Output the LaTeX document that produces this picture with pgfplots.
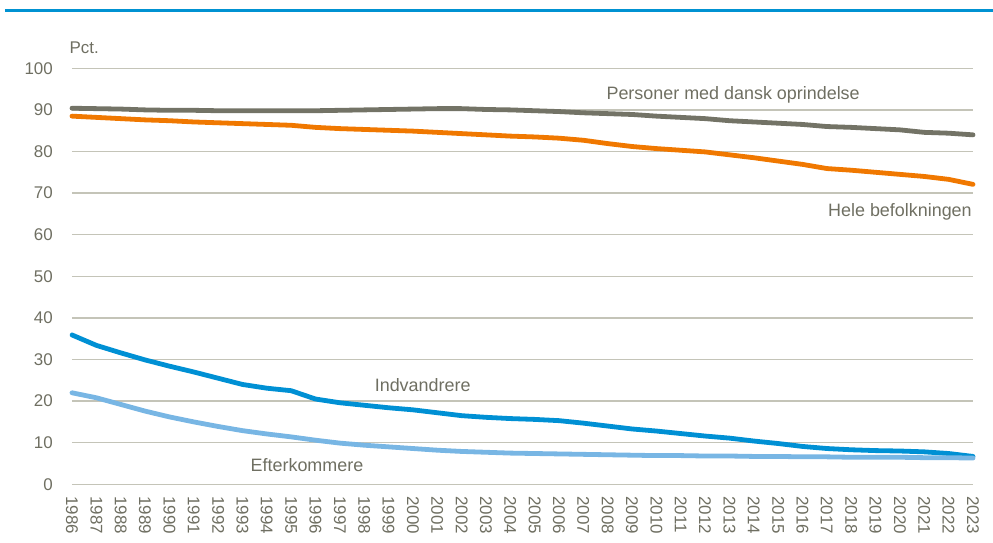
\documentclass[border=0pt]{standalone}
\usepackage{fontspec}
\setmainfont{Liberation Sans}
\usepackage{pgfplots}
\pgfplotsset{compat=1.18}
\definecolor{dansk}{HTML}{737366}
\definecolor{hele}{HTML}{F07800}
\definecolor{indv}{HTML}{0090D4}
\definecolor{efter}{HTML}{78B6E4}
\definecolor{txt}{HTML}{6F6F62}
\definecolor{gridc}{HTML}{C4C4B8}
\definecolor{rulec}{HTML}{0092D2}

\pgfplotstableread{
year dansk hele indv efter
1986 90.4 88.5 35.9 22.0
1987 90.3 88.2 33.4 20.8
1988 90.2 87.9 31.6 19.2
1989 90.0 87.6 29.9 17.6
1990 89.9 87.4 28.4 16.2
1991 89.9 87.1 27.0 15.0
1992 89.8 86.9 25.5 13.9
1993 89.8 86.7 24.0 12.9
1994 89.8 86.5 23.1 12.1
1995 89.8 86.3 22.5 11.4
1996 89.8 85.8 20.5 10.6
1997 89.9 85.5 19.6 9.9
1998 90.0 85.3 19.0 9.4
1999 90.1 85.1 18.4 9.0
2000 90.2 84.9 17.9 8.6
2001 90.3 84.6 17.2 8.2
2002 90.3 84.3 16.5 7.9
2003 90.1 84.0 16.1 7.7
2004 90.0 83.7 15.8 7.5
2005 89.8 83.5 15.6 7.4
2006 89.6 83.2 15.3 7.3
2007 89.3 82.7 14.7 7.2
2008 89.1 81.9 14.0 7.1
2009 88.9 81.2 13.3 7.0
2010 88.5 80.7 12.8 6.9
2011 88.2 80.3 12.2 6.9
2012 87.9 79.9 11.6 6.8
2013 87.4 79.2 11.1 6.8
2014 87.1 78.5 10.4 6.7
2015 86.8 77.7 9.8 6.7
2016 86.5 76.9 9.1 6.6
2017 86.0 75.9 8.6 6.6
2018 85.8 75.5 8.3 6.5
2019 85.5 75.0 8.1 6.5
2020 85.2 74.5 8.0 6.5
2021 84.6 74.0 7.8 6.4
2022 84.4 73.3 7.4 6.4
2023 84.0 72.1 6.7 6.3
}\data

\begin{document}
\begin{tikzpicture}
\useasboundingbox (-72bp,-58.7bp) rectangle (921bp,484.3bp);
\draw[rulec, line width=3bp] (-67bp,473.3bp) -- (921bp,473.3bp);
\begin{axis}[
    scale only axis,
    width=901bp, height=416bp,
    xmin=1986, xmax=2023,
    ymin=0, ymax=100,
    xtick={1986,...,2023},
    ytick={0,10,...,100},
    axis line style={draw=none},
    major tick length=0pt,
    ymajorgrids=true,
    grid style={draw=gridc, line width=1.3bp},
    clip=false,
    /pgf/number format/assume math mode=true,
    /pgf/number format/1000 sep={},
    tick label style={font=\fontsize{17}{17}\selectfont, text=txt},
    yticklabel style={anchor=east, inner sep=0pt, xshift=-19bp},
    xticklabel style={inner sep=0pt, yshift=-12bp, rotate=-90, anchor=west},
    every axis plot/.append style={line width=4.8bp, line join=round, line cap=round},
]
\addplot[dansk] table[x=year, y=dansk] {\data};
\addplot[hele] table[x=year, y=hele] {\data};
\addplot[indv] table[x=year, y=indv] {\data};
\addplot[efter] table[x=year, y=efter] {\data};

\node[text=txt, font=\fontsize{17}{17}\selectfont] at (axis cs:1986.5,105.0) {Pct.};
\node[text=txt, font=\fontsize{18}{18}\selectfont] at (axis cs:2013.15,93.6) {Personer med dansk oprindelse};
\node[text=txt, font=\fontsize{18}{18}\selectfont] at (axis cs:2020.0,65.5) {Hele befolkningen};
\node[text=txt, font=\fontsize{18}{18}\selectfont] at (axis cs:2000.4,23.9) {Indvandrere};
\node[text=txt, font=\fontsize{18}{18}\selectfont] at (axis cs:1995.65,4.6) {Efterkommere};
\end{axis}
\end{tikzpicture}
\end{document}
